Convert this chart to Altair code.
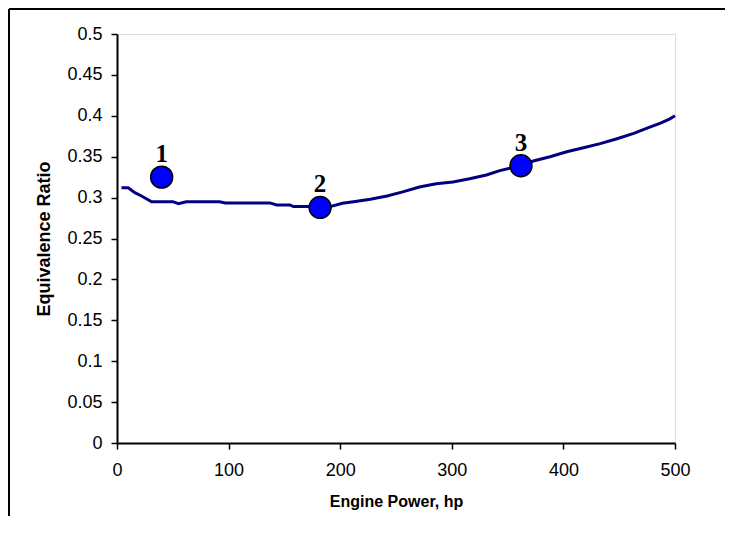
import altair as alt
import pandas as pd

# Line series: engine power (hp) vs equivalence ratio
power = [4, 10, 16, 22, 31, 50, 55, 62, 92, 97, 137, 143, 155, 158, 173, 182, 191,
         202, 212, 227, 242, 256, 271, 286, 301, 316, 331, 343, 352, 362, 373, 388,
         403, 418, 433, 448, 463, 475, 487, 495, 500]
ratio = [0.312, 0.312, 0.306, 0.302, 0.295, 0.295, 0.2925, 0.295, 0.295, 0.2935, 0.2935,
         0.291, 0.291, 0.289, 0.289, 0.2885, 0.289, 0.293, 0.295, 0.298, 0.302, 0.307,
         0.313, 0.317, 0.319, 0.323, 0.3276, 0.333, 0.336, 0.339, 0.3447, 0.350, 0.356,
         0.361, 0.366, 0.372, 0.3786, 0.385, 0.391, 0.396, 0.400]

# Marked operating points
pt_power = [40, 182, 362]
pt_ratio = [0.325, 0.288, 0.339]
pt_label = ["1", "2", "3"]

x_ticks = [0, 100, 200, 300, 400, 500]
y_ticks = [0, 0.05, 0.1, 0.15, 0.2, 0.25, 0.3, 0.35, 0.4, 0.45, 0.5]

line_df = pd.DataFrame({"power": power, "ratio": ratio})
pts_df = pd.DataFrame({"power": pt_power, "ratio": pt_ratio, "label": pt_label})

xscale = alt.Scale(domain=[0, 500], nice=False)
yscale = alt.Scale(domain=[0, 0.5], nice=False)

xaxis = alt.Axis(values=x_ticks, title="Engine Power, hp", grid=False,
                 labelFont="Liberation Sans", labelFontSize=18, labelColor="black",
                 labelPadding=12, tickSize=6, tickColor="black", domainColor="black",
                 domainWidth=2, tickWidth=1.5,
                 titleFont="Liberation Sans", titleFontSize=16, titleFontWeight="bold",
                 titleColor="black", titlePadding=14, labelFlush=False)
yaxis = alt.Axis(values=y_ticks, format="~g", title="Equivalence Ratio", grid=False,
                 labelFont="Liberation Sans", labelFontSize=18, labelColor="black",
                 labelPadding=9, tickSize=6, tickColor="black", domainColor="black",
                 domainWidth=2, tickWidth=1.5,
                 titleFont="Liberation Sans", titleFontSize=18, titleFontWeight="bold",
                 titleColor="black", titlePadding=13, labelFlush=False)

line = alt.Chart(line_df).mark_line(color="#000080", strokeWidth=3).encode(
    x=alt.X("power:Q", scale=xscale, axis=xaxis),
    y=alt.Y("ratio:Q", scale=yscale, axis=yaxis),
)

points = alt.Chart(pts_df).mark_point(
    filled=True, fill="#0000FF", stroke="black", strokeWidth=1.5, size=480, opacity=1
).encode(x="power:Q", y="ratio:Q")

labels = alt.Chart(pts_df).mark_text(
    font="Liberation Serif", fontSize=25, fontWeight="bold", color="black",
    baseline="alphabetic", dy=-15
).encode(x="power:Q", y="ratio:Q", text="label:N")

frame_df = pd.DataFrame({"a": [0]})
frame_left = alt.Chart(frame_df).mark_rule(color="black", strokeWidth=2).encode(
    x=alt.value(-108), y=alt.value(-25), y2=alt.value(482))
frame_top = alt.Chart(frame_df).mark_rule(color="black", strokeWidth=2).encode(
    x=alt.value(-108), x2=alt.value(608), y=alt.value(-25))

chart = alt.layer(line, points, labels, frame_left, frame_top).properties(
    width=558, height=409,
    autosize=alt.AutoSizeParams(type="none"),
    padding={"left": 109, "top": 26, "right": 50, "bottom": 73},
).configure_view(stroke="#808080", strokeWidth=1.5).configure(background="white")

chart.save("out.html", embed_options={"renderer": "svg", "actions": False})
